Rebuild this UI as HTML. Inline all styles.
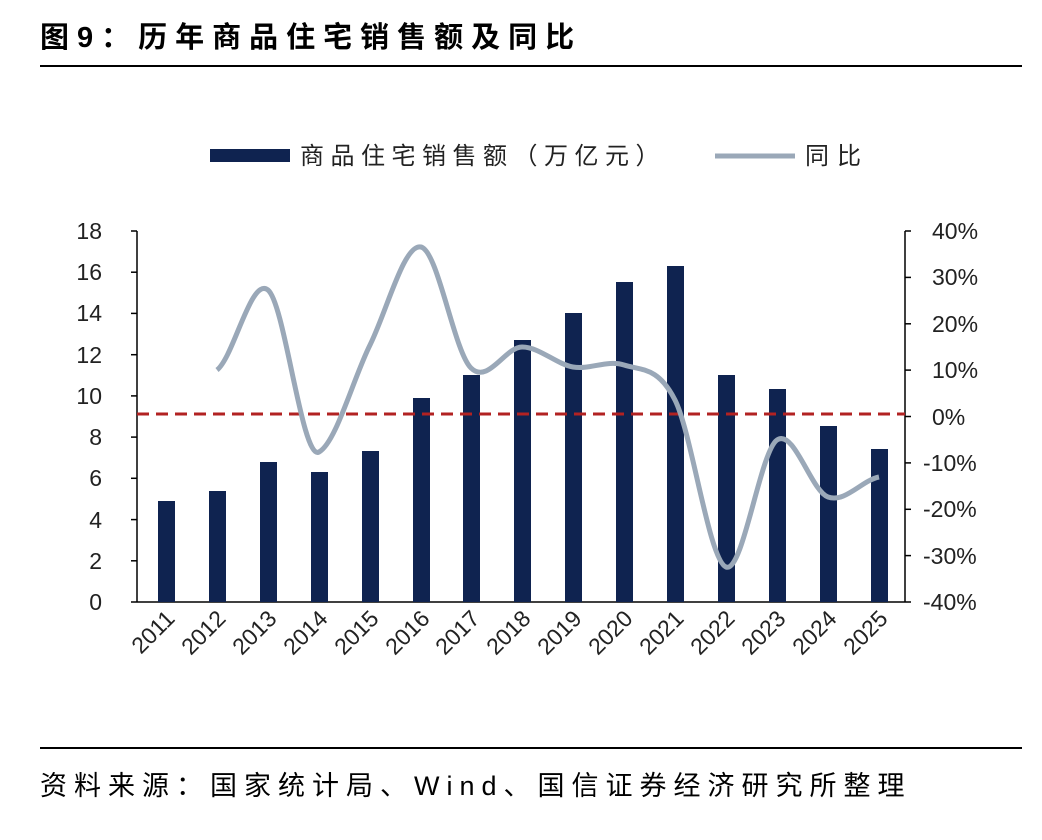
<!DOCTYPE html>
<html><head><meta charset="utf-8"><style>
html,body{margin:0;padding:0;background:#fff;}
svg{display:block;}
text{font-family:"Liberation Sans","Noto Sans CJK SC",sans-serif;}
</style></head><body>
<svg width="1042" height="840" viewBox="0 0 1042 840" xmlns="http://www.w3.org/2000/svg">
<text x="40" y="47" font-size="29" font-weight="bold" fill="#000" letter-spacing="8">图9：历年商品住宅销售额及同比</text>
<line x1="40" y1="66" x2="1022" y2="66" stroke="#000" stroke-width="2"/>
<!-- legend -->
<rect x="210" y="149" width="80" height="13" fill="#0f2350"/>
<text x="300" y="164" font-size="24" fill="#222" letter-spacing="6.5">商品住宅销售额（万亿元）</text>
<line x1="715" y1="156" x2="795" y2="156" stroke="#9aa8b8" stroke-width="5"/>
<text x="805" y="164" font-size="24" fill="#222" letter-spacing="8">同比</text>
<!-- axes -->
<g stroke="#000" stroke-width="1.5">
<line x1="137" y1="231" x2="137" y2="602"/>
<line x1="137" y1="602" x2="905" y2="602"/>
<line x1="905" y1="231" x2="905" y2="602"/>
<line x1="131" y1="231" x2="137" y2="231"/><line x1="131" y1="272.2" x2="137" y2="272.2"/><line x1="131" y1="313.4" x2="137" y2="313.4"/><line x1="131" y1="354.7" x2="137" y2="354.7"/><line x1="131" y1="395.9" x2="137" y2="395.9"/><line x1="131" y1="437.1" x2="137" y2="437.1"/><line x1="131" y1="478.3" x2="137" y2="478.3"/><line x1="131" y1="519.6" x2="137" y2="519.6"/><line x1="131" y1="560.8" x2="137" y2="560.8"/><line x1="131" y1="602" x2="137" y2="602"/>
<line x1="905" y1="231" x2="911" y2="231"/><line x1="905" y1="277.4" x2="911" y2="277.4"/><line x1="905" y1="323.8" x2="911" y2="323.8"/><line x1="905" y1="370.1" x2="911" y2="370.1"/><line x1="905" y1="416.5" x2="911" y2="416.5"/><line x1="905" y1="462.9" x2="911" y2="462.9"/><line x1="905" y1="509.3" x2="911" y2="509.3"/><line x1="905" y1="555.6" x2="911" y2="555.6"/><line x1="905" y1="602" x2="911" y2="602"/>
</g>
<g font-size="23" fill="#222" text-anchor="end">
<text x="102" y="239">18</text><text x="102" y="280">16</text><text x="102" y="321">14</text><text x="102" y="363">12</text><text x="102" y="404">10</text><text x="102" y="445">8</text><text x="102" y="486">6</text><text x="102" y="528">4</text><text x="102" y="569">2</text><text x="102" y="610">0</text>
</g>
<g font-size="23" fill="#222" text-anchor="start">
<text x="932" y="239">40%</text><text x="932" y="285">30%</text><text x="932" y="332">20%</text><text x="932" y="378">10%</text><text x="932" y="425">0%</text><text x="923" y="471">-10%</text><text x="923" y="517">-20%</text><text x="923" y="564">-30%</text><text x="923" y="610">-40%</text>
</g>
<!-- bars -->
<g fill="#0f2350">
<rect x="158" y="501" width="17" height="101"/>
<rect x="209" y="491" width="17" height="111"/>
<rect x="260" y="462" width="17" height="140"/>
<rect x="311" y="472" width="17" height="130"/>
<rect x="362" y="451" width="17" height="151"/>
<rect x="413" y="398" width="17" height="204"/>
<rect x="463" y="375" width="17" height="227"/>
<rect x="514" y="340" width="17" height="262"/>
<rect x="565" y="313" width="17" height="289"/>
<rect x="616" y="282" width="17" height="320"/>
<rect x="667" y="266" width="17" height="336"/>
<rect x="718" y="375" width="17" height="227"/>
<rect x="769" y="389" width="17" height="213"/>
<rect x="820" y="426" width="17" height="176"/>
<rect x="871" y="449" width="17" height="153"/>
</g>
<line x1="137" y1="414" x2="905" y2="414" stroke="#b22222" stroke-width="3" stroke-dasharray="12,7"/>
<path d="M217,370 C234,356.7 251,276.3 268,290 C285,303.7 302,461.2 319,452 C336,442.8 353,379.2 370,345 C387,310.8 404,243.2 421,247 C438,250.8 454,351.3 471,368 C488,384.7 505,347.2 522,347 C539,346.8 556,364 573,367 C590,370 607,359.5 624,365 C641,370.5 658,366.3 675,400 C692,433.7 709,560.3 726,567 C743,573.7 760,451.7 777,440 C794,428.3 811,490.8 828,497 C845,503.2 862,480.3 879,477" fill="none" stroke="#9aa8b8" stroke-width="5"/>
<!-- x labels -->
<g font-size="23" fill="#222" text-anchor="end">
<text transform="translate(176,620) rotate(-45)">2011</text>
<text transform="translate(227,620) rotate(-45)">2012</text>
<text transform="translate(278,620) rotate(-45)">2013</text>
<text transform="translate(329,620) rotate(-45)">2014</text>
<text transform="translate(380,620) rotate(-45)">2015</text>
<text transform="translate(431,620) rotate(-45)">2016</text>
<text transform="translate(481,620) rotate(-45)">2017</text>
<text transform="translate(532,620) rotate(-45)">2018</text>
<text transform="translate(583,620) rotate(-45)">2019</text>
<text transform="translate(634,620) rotate(-45)">2020</text>
<text transform="translate(685,620) rotate(-45)">2021</text>
<text transform="translate(736,620) rotate(-45)">2022</text>
<text transform="translate(787,620) rotate(-45)">2023</text>
<text transform="translate(838,620) rotate(-45)">2024</text>
<text transform="translate(889,620) rotate(-45)">2025</text>
</g>
<line x1="40" y1="748" x2="1022" y2="748" stroke="#000" stroke-width="2"/>
<text x="40" y="795" font-size="27" fill="#000" letter-spacing="7">资料来源：国家统计局、Wind、国信证券经济研究所整理</text>
</svg>
</body></html>
